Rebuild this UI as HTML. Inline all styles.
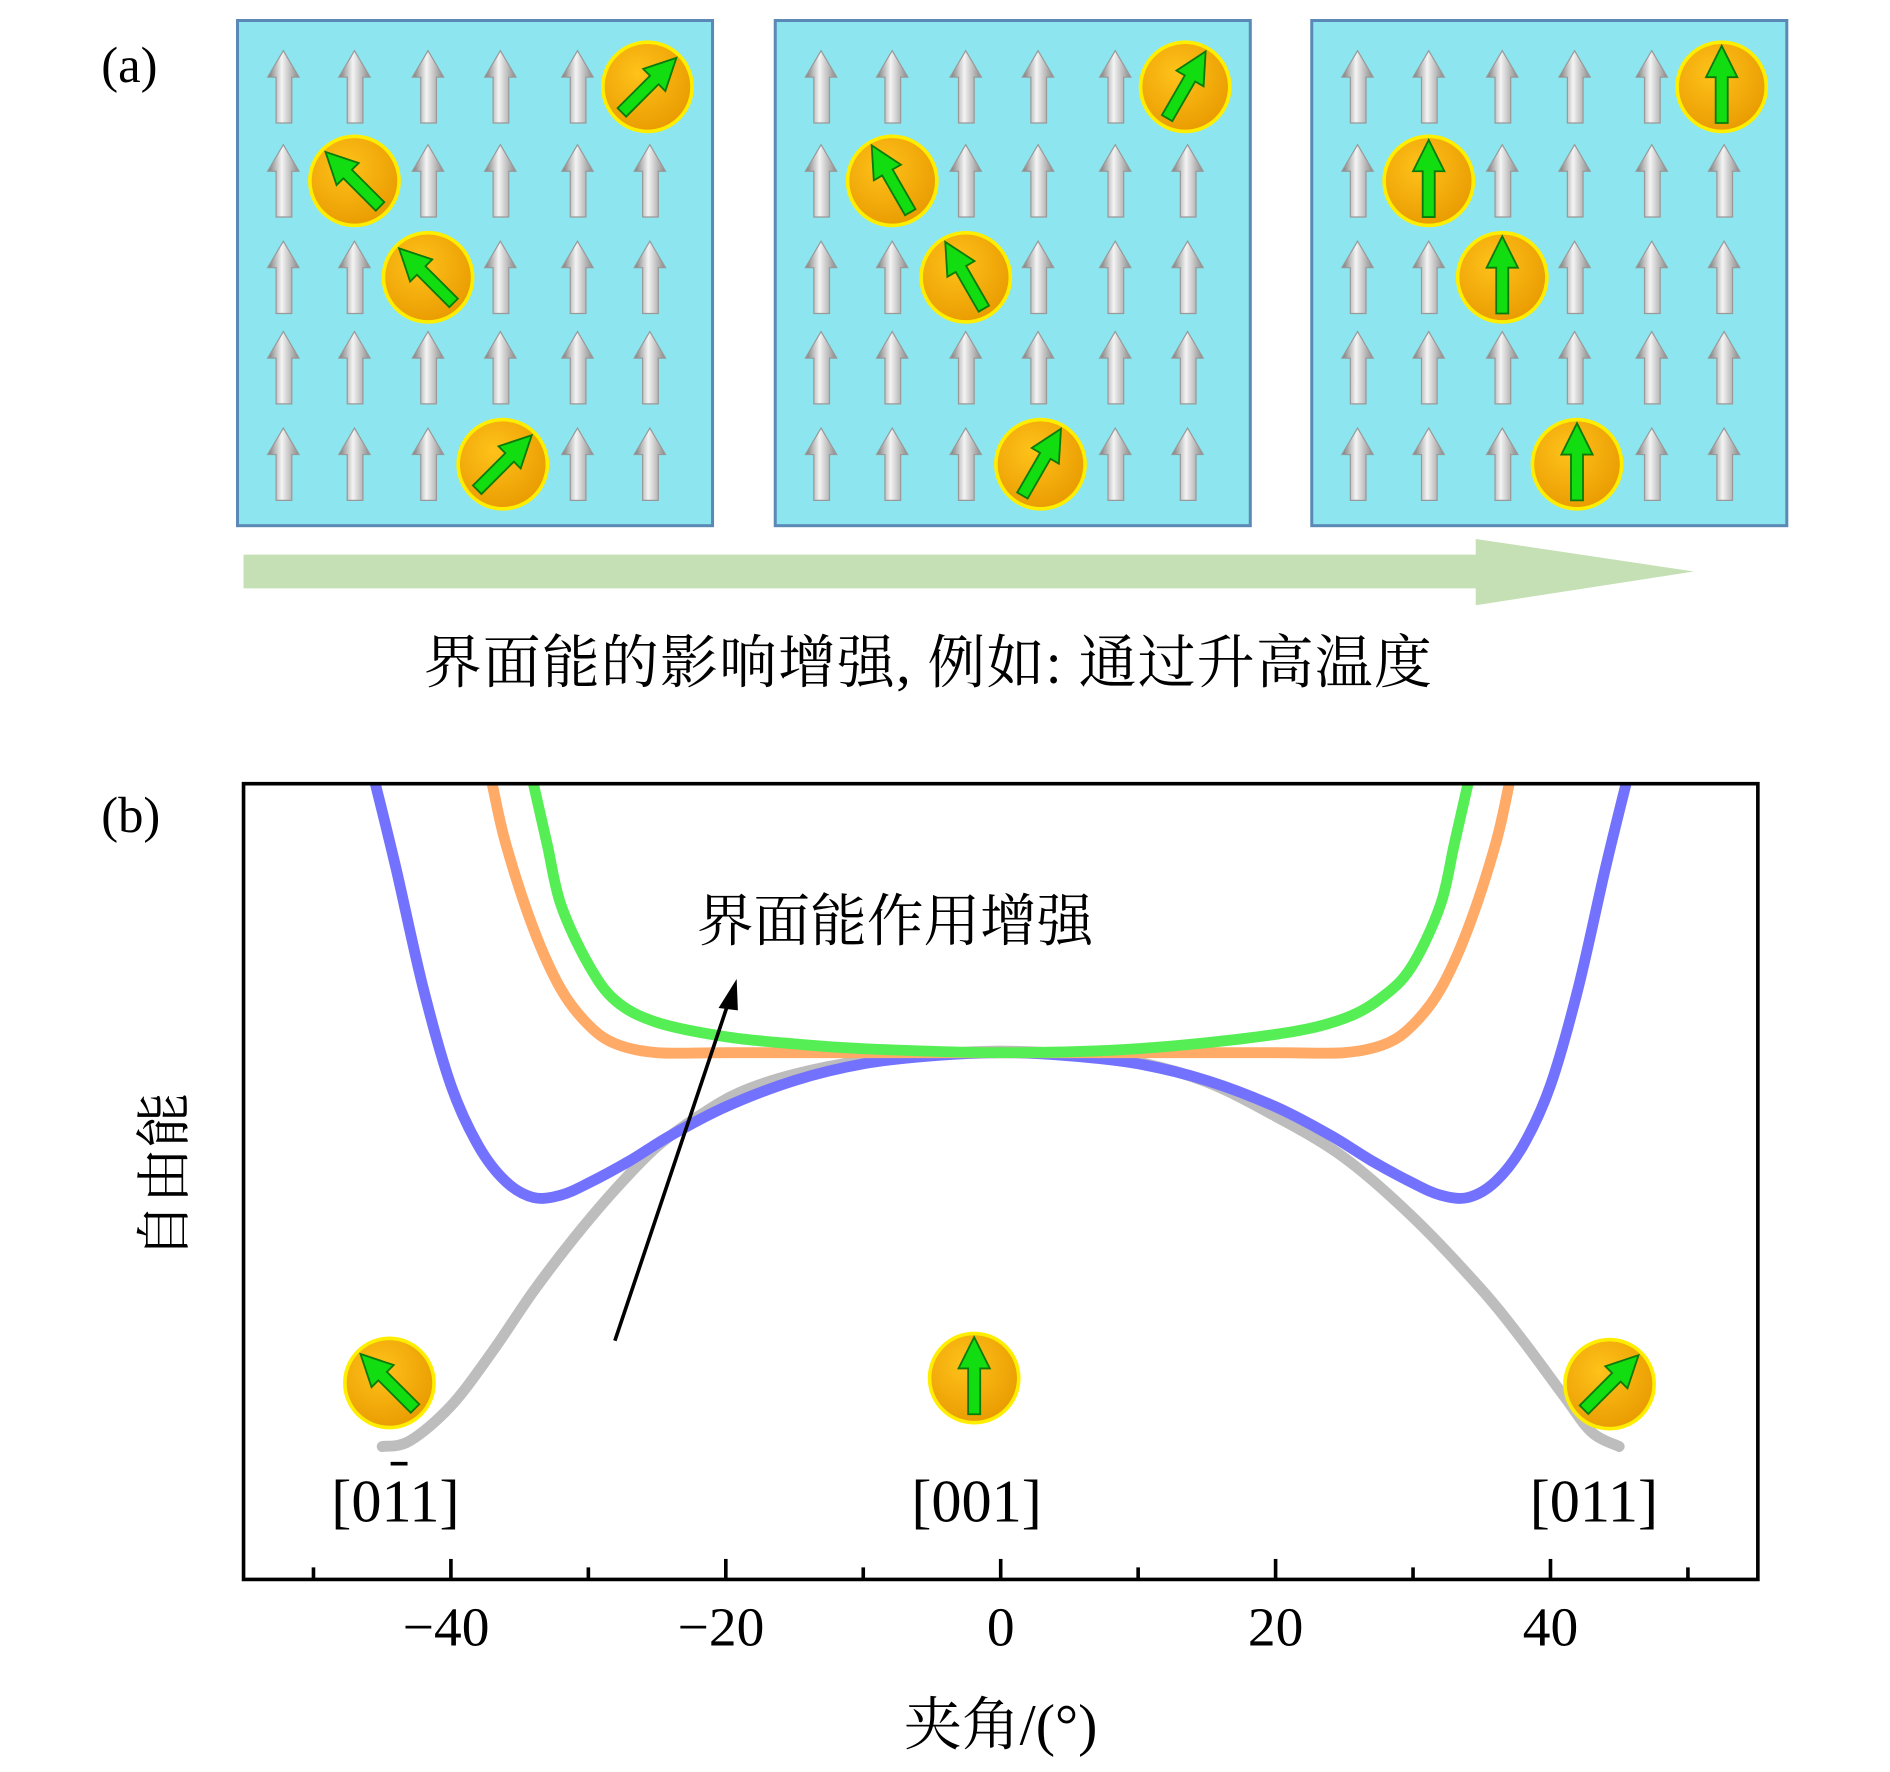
<!DOCTYPE html>
<html><head><meta charset="utf-8"><style>
html,body{margin:0;padding:0;background:#fff;}
svg{display:block;}
text{font-family:"Liberation Serif","Noto Serif CJK SC","Noto Sans CJK SC",serif;fill:#000;}
</style></head><body>
<svg id="fig" width="1890" height="1772" viewBox="0 0 1567.6 1469.7" xmlns="http://www.w3.org/2000/svg">
<defs>
<radialGradient id="ballG" cx="0.4" cy="0.35" r="0.7"><stop offset="0" stop-color="#ffc21a"/><stop offset="1" stop-color="#e89a00"/></radialGradient>
<linearGradient id="grayA" x1="0" x2="1"><stop offset="0" stop-color="#777"/><stop offset="0.45" stop-color="#f4f4f4"/><stop offset="1" stop-color="#888"/></linearGradient>
<clipPath id="plotClip"><rect x="202" y="650" width="1256" height="660"/></clipPath>
</defs>
<g id="panelA"></g>
<text x="84" y="68" font-size="42">(a)</text>
<g>
<rect x="202" y="460" width="1024" height="28" fill="#c5e0b4"/>
<polygon points="1224,447 1405,474 1224,502" fill="#c5e0b4"/>
</g>
<text x="770" y="566" font-size="48" letter-spacing="1" text-anchor="middle">界面能的影响增强, 例如: 通过升高温度</text>
<text x="84" y="690" font-size="42">(b)</text>
<g id="chart"></g>
</svg>
<script>
// ---- chart data ----
const xTicks = [-40,-20,0,20,40];
const xTickLabels = ["\u221240","\u221220","0","20","40"];
const xMinor = [-50,-30,-10,10,30,50];
const grayX = [-45,-43,-40,-37,-34,-31,-28,-25,-22,-19,-15,-10,-5,0,5,10,15,20,25,30,35,38,41,43,45];
const grayE = [16.7,17.4,21.8,28.6,36.2,43,49.1,54.4,58.2,61.2,63.5,65.2,66,66.4,66,65,62.5,58.2,53,45.5,36.4,30,23,18.5,16.7];
const blueX = [-45.5,-44,-42,-40,-38,-36,-34,-32,-30,-27,-24,-20,-15,-10,-5,0,5,10,15,20,24,27,30,32,34,36,38,40,42,44,45.5];
const blueE = [100,89.4,74.2,62.1,54.5,50,48,48.3,49.8,52.6,55.8,59.4,62.7,64.8,65.8,66.2,65.8,64.8,62.7,59.4,55.8,52.6,49.8,48.3,48,50,54.5,62.1,74.2,89.4,100];
const orangeX = [-37,-36,-34,-32,-30,-28,-25,-20,-10,0,10,20,25,28,30,32,34,36,37];
const orangeE = [100,92.4,81.8,74.2,69.7,67.3,66.2,66.2,66.2,66.2,66.2,66.2,66.2,67.3,69.7,74.2,81.8,92.4,100];
const greenX = [-34,-33,-32,-30,-28,-25,-20,-15,-10,0,10,20,25,28,30,32,33,34];
const greenE = [100,92.4,84.8,77.3,72.7,70,68.2,67.3,66.7,66.2,66.7,68.5,70.5,73.5,77.3,84.8,92.4,100];
const seriesColors = {gray:"#bdbdbd", blue:"#7272ff", orange:"#ffaa66", green:"#55ee55"};

const X0=202,X1=1458,Y0=650,Y1=1310;
function sx(d){return 830+d*11.4;}
function sy(e){return Y1-e*6.6;}
const NS="http://www.w3.org/2000/svg";
function mk(tag,attrs,parent){const el=document.createElementNS(NS,tag);for(const k in attrs)el.setAttribute(k,attrs[k]);parent.appendChild(el);return el;}
function smooth(xs,es){
  const p=xs.map((x,i)=>[sx(x),sy(es[i])]);
  let d="M"+p[0][0]+","+p[0][1];
  for(let i=0;i<p.length-1;i++){
    const a=p[Math.max(0,i-1)],b=p[i],c=p[i+1],e=p[Math.min(p.length-1,i+2)];
    d+=" C"+(b[0]+(c[0]-a[0])/6)+","+(b[1]+(c[1]-a[1])/6)+" "+(c[0]-(e[0]-b[0])/6)+","+(c[1]-(e[1]-b[1])/6)+" "+c[0]+","+c[1];
  }
  return d;
}
function ball(parent,cx,cy,ang,name){
  const g=mk("g",{},parent);
  
  
  mk("circle",{cx:cx,cy:cy,r:37,fill:"url(#ballG)",stroke:"#ffee00","stroke-width":3},g);
  const a=mk("g",{transform:`translate(${cx},${cy}) rotate(${ang})`},g);
  mk("polygon",{points:"-5,30 5,30 5,-8 13,-8 0,-34 -13,-8 -5,-8",fill:"#11dd11",stroke:"#0a7a0a","stroke-width":1.5},a);
}
function grayArrow(parent,cx,cy){
  mk("polygon",{points:`${cx-6},${cy+30} ${cx+7},${cy+30} ${cx+7},${cy-8} ${cx+13},${cy-8} ${cx},${cy-30} ${cx-13},${cy-8} ${cx-6},${cy-8}`,fill:"url(#grayA)",stroke:"#999","stroke-width":1},parent);
}
// ---- panel a ----
const panA=document.getElementById("panelA");
const panelLefts=[197,643,1088];
const colOff=[38,97,158,218,282,342];
const rowY=[72,150,230,305,385];
const ballCells=[[0,5],[1,1],[2,2],[4,3]];
const ballAngles=[[45,-45,-45,45],[30,-30,-30,30],[0,0,0,0]];
panelLefts.forEach((L,pi)=>{
  const g=mk("g",{},panA);
  
  
  mk("rect",{x:L,y:17,width:394,height:419,fill:"#8de6ef",stroke:"#5b89b6","stroke-width":2.5},g);
  rowY.forEach((y,r)=>colOff.forEach((o,c)=>{
    if(ballCells.some(b=>b[0]===r&&b[1]===c))return;
    grayArrow(g,L+o,y);
  }));
  ballCells.forEach((b,bi)=>{
    const cy=rowY[b[0]];
    ball(g,b[1]===5?L+340:L+colOff[b[1]]+(b[1]===3?2:0),cy,ballAngles[pi][bi],'spin-ball');
  });
});
// ---- chart ----
const ch=document.getElementById("chart");
const curves=mk("g",{"clip-path":"url(#plotClip)"},ch);
[["gray",grayX,grayE],["blue",blueX,blueE],["orange",orangeX,orangeE],["green",greenX,greenE]].forEach(s=>{
  const p=mk("path",{d:smooth(s[1],s[2]),fill:"none",stroke:seriesColors[s[0]],"stroke-width":9,"stroke-linecap":"round","stroke-linejoin":"round"},curves);
  
  
});
const frame=mk("rect",{x:X0,y:Y0,width:X1-X0,height:Y1-Y0,fill:"none",stroke:"#000","stroke-width":3},ch);


xTicks.forEach((t,i)=>{
  const l=mk("line",{x1:sx(t),x2:sx(t),y1:Y1,y2:Y1-17,stroke:"#000","stroke-width":3},ch);
  
  
  const tx=mk("text",{x:sx(t)-(t<0?4:0),y:1365,"font-size":46,"text-anchor":"middle"},ch);
  tx.textContent=xTickLabels[i];
  
  
});
xMinor.forEach(t=>{
  const l=mk("line",{x1:sx(t),x2:sx(t),y1:Y1,y2:Y1-10,stroke:"#000","stroke-width":3},ch);
  
  
});
const xl=mk("text",{x:830,y:1447,"font-size":48,"text-anchor":"middle"},ch);
xl.textContent="夹角/(°)";


const yl=mk("text",{x:0,y:0,"font-size":46,"text-anchor":"middle",transform:"translate(152,975) rotate(-90)"},ch);
yl.textContent="自由能";


const ann=mk("g",{},ch);


mk("line",{x1:510,y1:1112,x2:604,y2:832,stroke:"#000","stroke-width":3},ann);
mk("polygon",{points:"611,812 596,836 612,838",fill:"#000"},ann);
const at=mk("text",{x:578,y:780,"font-size":47},ch);
at.textContent="界面能作用增强";


ball(ch,323,1147,-45,'ball-011bar');
ball(ch,808,1143,0,'ball-001');
ball(ch,1335,1148,45,'ball-011');
[["[011]",328,'label-011bar'],["[001]",810,'label-001'],["[011]",1322,'label-011']].forEach(d=>{
  const t=mk("text",{x:d[1],y:1262,"font-size":50,"text-anchor":"middle"},ch);
  t.textContent=d[0];
  
  
});
const bar=mk("line",{x1:324,x2:338,y1:1214,y2:1214,stroke:"#000","stroke-width":3},ch);


</script>
</body></html>
